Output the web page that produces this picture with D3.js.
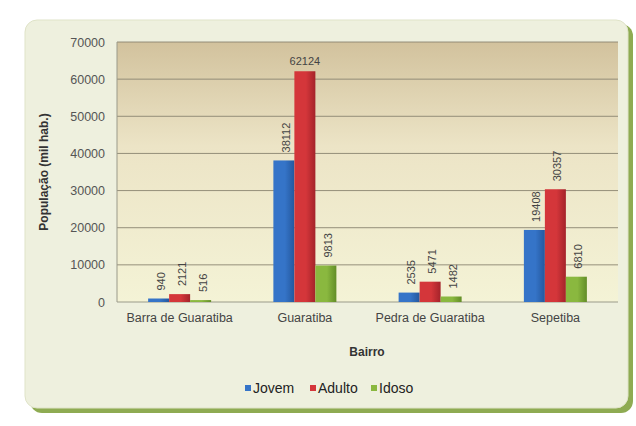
<!DOCTYPE html>
<html><head><meta charset="utf-8">
<script src="https://cdn.jsdelivr.net/npm/d3@7"></script>
<style>body{margin:0;background:#fff;}svg{display:block;font-family:"Liberation Sans",Arial,sans-serif;}</style>
</head><body>
<svg id="c" width="636" height="426"></svg>
<script>
const categories = ["Barra de Guaratiba","Guaratiba","Pedra de Guaratiba","Sepetiba"];
const seriesNames = ["Jovem","Adulto","Idoso"];
const jovem  = [940, 38112, 2535, 19408];
const adulto = [2121, 62124, 5471, 30357];
const idoso  = [516, 9813, 1482, 6810];
const yTicks = [0,10000,20000,30000,40000,50000,60000,70000];
const colors = ["#3574c8","#d4363a","#8ab83f"];
const dark   = ["#24589e","#a4232a","#628d27"];

(function(){
const svg = d3.select("#c");
const defs = svg.append("defs");
const bg = defs.append("linearGradient").attr("id","plotbg").attr("x1",0).attr("y1",0).attr("x2",0).attr("y2",1);
bg.append("stop").attr("offset","0%").attr("stop-color","#d2c29d");
bg.append("stop").attr("offset","40%").attr("stop-color","#ece4c6");
bg.append("stop").attr("offset","100%").attr("stop-color","#f4f3d6");
colors.forEach((c,i)=>{
  const g = defs.append("linearGradient").attr("id","bar"+i).attr("x1",0).attr("y1",0).attr("x2",1).attr("y2",0);
  g.append("stop").attr("offset","0%").attr("stop-color",c);
  g.append("stop").attr("offset","55%").attr("stop-color",c);
  g.append("stop").attr("offset","100%").attr("stop-color",dark[i]);
});

// card
svg.append("rect").attr("x",30).attr("y",24).attr("width",603).attr("height",389).attr("rx",12).attr("fill","#8eab52");
svg.append("rect").attr("x",25).attr("y",20).attr("width",603).attr("height",388).attr("rx",12).attr("fill","#eef0de").attr("stroke","#dfe3c8");

const pl=117,pr=618,pt=42,pb=302;
const x = d3.scaleBand().domain(categories).range([pl,pr]);
const y = d3.scaleLinear().domain([0,70000]).range([pb,pt]);

svg.append("rect").attr("x",pl).attr("y",pt).attr("width",pr-pl).attr("height",pb-pt).attr("fill","url(#plotbg)");
svg.append("g").selectAll("line").data(yTicks.slice(1)).join("line")
  .attr("x1",pl).attr("x2",pr).attr("y1",d=>y(d)).attr("y2",d=>y(d))
  .attr("stroke","#8a8570").attr("stroke-width",0.9);
svg.append("line").attr("x1",pl).attr("x2",pl).attr("y1",pt).attr("y2",pb).attr("stroke","#9a9a8a");
svg.append("line").attr("x1",pl).attr("x2",pr).attr("y1",pb).attr("y2",pb).attr("stroke","#9a9a8a");

const yAxis = svg.append("g").attr("transform",`translate(${pl},0)`).call(d3.axisLeft(y).tickValues(yTicks).tickSize(0).tickPadding(12).tickFormat(d3.format("d")));
yAxis.select(".domain").remove();
yAxis.selectAll("text").attr("fill","#555").attr("font-size",12.5);

const xAxis = svg.append("g").attr("transform",`translate(0,${pb})`).call(d3.axisBottom(x).tickSize(0).tickPadding(11));
xAxis.select(".domain").remove();
xAxis.selectAll("text").attr("fill","#444").attr("font-size",12.5);

const series = [jovem, adulto, idoso];
const data = [];
categories.forEach((c,ci)=>series.forEach((s,si)=>data.push({c, s:seriesNames[si], si, v:s[ci]})));

const bw = 21;
const gx = d=> x(d.c) + x.bandwidth()/2 - 1.5*bw + d.si*bw;
svg.append("g").selectAll("rect").data(data).join("rect")
  .attr("x",gx).attr("width",bw)
  .attr("y",d=>y(d.v)).attr("height",d=>pb-y(d.v))
  .attr("fill",d=>`url(#bar${d.si})`);

const maxV = d3.max(adulto);
svg.append("g").selectAll("text").data(data).join("text")
  .attr("font-size",11).attr("fill","#444")
  .attr("transform",d=> d.v===maxV ? `translate(${gx(d)+bw/2},${y(d.v)-6})` : `translate(${gx(d)+bw/2+6},${y(d.v)-8}) rotate(-90)`)
  .attr("text-anchor",d=> d.v===maxV ? "middle" : "start")
  .text(d=>d.v);

svg.append("text").attr("x",367).attr("y",356).attr("text-anchor","middle").attr("font-weight","bold").attr("font-size",12).attr("fill","#333").text("Bairro");
svg.append("text").attr("transform","translate(48,172) rotate(-90)").attr("text-anchor","middle").attr("font-weight","bold").attr("font-size",12).attr("fill","#333").text("População (mil hab.)");

const legX=[245,310,371];
const lg = svg.append("g").selectAll("g").data(seriesNames).join("g").attr("transform",(d,i)=>`translate(${legX[i]},393)`);
lg.append("rect").attr("x",0).attr("y",-8).attr("width",6).attr("height",6).attr("fill",(d,i)=>colors[i]);
lg.append("text").attr("x",8).attr("y",0).attr("font-size",14).attr("fill","#222").text(d=>d);
})();
</script>
</body></html>
